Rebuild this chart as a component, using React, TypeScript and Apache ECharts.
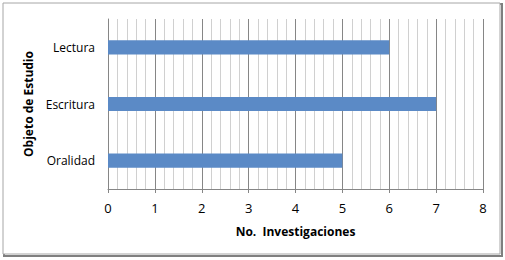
import React, { useEffect, useRef } from "react";
import * as echarts from "echarts";

const categories = ["Oralidad", "Escritura", "Lectura"];
const values = [5, 7, 6];
const xTitle = "No.  Investigaciones";
const yTitle = "Objeto de Estudio";

export default function App() {
  const ref = useRef<HTMLDivElement>(null);
  useEffect(() => {
    document.body.style.margin = "0";
    const chart = echarts.init(ref.current!, null, { renderer: "svg" });
    const font = "'Open Sans', 'Noto Sans', sans-serif";
    chart.setOption({
      animation: false,
      backgroundColor: "#ffffff",
      graphic: [
        { type: "rect", shape: { x: 4, y: 4, width: 498, height: 252 }, style: { fill: "none", stroke: "#7f7f7f", lineWidth: 2 }, z: -1 },
        { type: "rect", shape: { x: 3, y: 3, width: 497, height: 251 }, style: { fill: "#ffffff", stroke: "#a6a6a6", lineWidth: 1 }, z: -1 },
      ],
      grid: { left: 108, right: 22, top: 19, bottom: 71 },
      xAxis: {
        type: "value",
        min: 0,
        max: 8,
        interval: 1,
        name: xTitle,
        nameLocation: "middle",
        nameGap: 36,
        nameTextStyle: { fontFamily: font, fontWeight: "bold", fontSize: 12, color: "#000" },
        axisLine: { show: true, lineStyle: { color: "#868686" } },
        axisTick: { show: true, length: 4, lineStyle: { color: "#868686" } },
        axisLabel: { fontFamily: font, fontSize: 13, color: "#000", margin: 12 },
        splitLine: { show: true, lineStyle: { color: "#868686" } },
        minorTick: { show: false, splitNumber: 5 },
        minorSplitLine: { show: true, lineStyle: { color: "#d0d0d0" } },
      },
      yAxis: {
        type: "category",
        data: categories,
        name: yTitle,
        nameLocation: "middle",
        nameGap: 74,
        nameTextStyle: { fontFamily: font, fontWeight: "bold", fontSize: 12, color: "#000" },
        axisLine: { show: true, lineStyle: { color: "#868686" } },
        axisTick: { show: false },
        axisLabel: { fontFamily: font, fontSize: 12, color: "#000", margin: 13 },
      },
      series: [
        {
          type: "bar",
          data: values,
          barWidth: "25%",
          itemStyle: { color: "#5B8AC6" },
        },
      ],
    });
    return () => chart.dispose();
  }, []);
  return <div ref={ref} style={{ width: 505, height: 260 }} />;
}
